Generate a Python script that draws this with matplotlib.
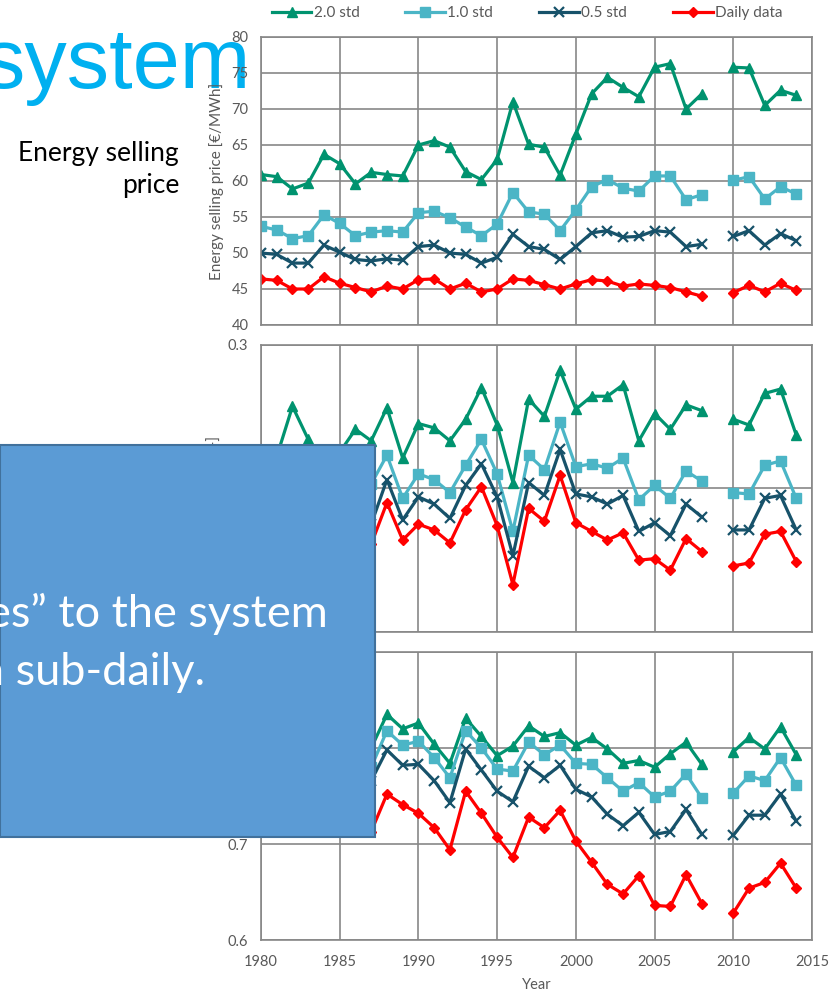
import numpy as np
import matplotlib
matplotlib.use("Agg")
import matplotlib.pyplot as plt
from matplotlib.patches import Rectangle
from matplotlib.ticker import FormatStrFormatter

nan = np.nan

# x axis: years 1980-2014, 2009 missing
years = np.arange(1980, 2015)
xticks = [1980, 1985, 1990, 1995, 2000, 2005, 2010, 2015]

series_labels = ["2.0 std", "1.0 std", "0.5 std", "Daily data"]

# top panel: energy selling price [EUR/MWh]
price_2std = [60.9, 60.6, 58.9, 59.7, 63.7, 62.4, 59.6, 61.2, 60.9, 60.7, 65.0, 65.6, 64.7, 61.3, 60.2, 63.0, 71.0,
              65.1, 64.7, 60.8, 66.5, 72.1, 74.4, 73.0, 71.7, 75.8, 76.3, 70.0, 72.1, nan, 75.8, 75.7, 70.5, 72.6, 71.9]
price_1std = [53.7, 53.2, 52.0, 52.4, 55.3, 54.1, 52.4, 52.9, 53.1, 52.9, 55.6, 55.8, 54.9, 53.6, 52.4, 54.0, 58.4,
              55.7, 55.4, 53.1, 56.0, 59.2, 60.2, 59.0, 58.6, 60.7, 60.7, 57.4, 58.1, nan, 60.1, 60.6, 57.5, 59.2, 58.2]
price_05std = [50.0, 49.8, 48.6, 48.6, 51.1, 50.1, 49.1, 48.9, 49.2, 49.0, 50.9, 51.1, 50.0, 49.8, 48.6, 49.4, 52.6,
               50.9, 50.5, 49.1, 50.9, 52.8, 53.1, 52.2, 52.3, 53.1, 52.9, 50.9, 51.2, nan, 52.3, 53.1, 51.1, 52.7, 51.7]
price_daily = [46.4, 46.2, 45.0, 45.0, 46.7, 45.8, 45.2, 44.6, 45.4, 45.0, 46.3, 46.4, 45.0, 45.8, 44.6, 45.0, 46.4,
               46.2, 45.6, 45.0, 45.7, 46.3, 46.1, 45.4, 45.7, 45.5, 45.2, 44.6, 44.0, nan, 44.5, 45.5, 44.6, 45.8, 44.8]

# middle panel
mid_2std = [0.215, 0.222, 0.257, 0.234, 0.212, 0.225, 0.241, 0.233, 0.256, 0.221, 0.245, 0.242, 0.233, 0.248, 0.270,
            0.244, 0.204, 0.262, 0.250, 0.282, 0.255, 0.264, 0.264, 0.272, 0.233, 0.252, 0.241, 0.258, 0.254, nan,
            0.248, 0.244, 0.266, 0.269, 0.237]
mid_1std = [0.190, 0.195, 0.222, 0.205, 0.185, 0.198, 0.210, 0.203, 0.223, 0.193, 0.210, 0.206, 0.197, 0.216, 0.234,
            0.210, 0.170, 0.223, 0.213, 0.246, 0.215, 0.217, 0.214, 0.221, 0.192, 0.202, 0.193, 0.212, 0.205, nan,
            0.197, 0.196, 0.216, 0.219, 0.193]
mid_05std = [0.175, 0.180, 0.205, 0.188, 0.170, 0.182, 0.192, 0.175, 0.206, 0.178, 0.194, 0.189, 0.179, 0.202, 0.217,
             0.194, 0.153, 0.204, 0.195, 0.227, 0.196, 0.194, 0.189, 0.195, 0.170, 0.176, 0.167, 0.189, 0.180, nan,
             0.171, 0.171, 0.193, 0.195, 0.171]
mid_daily = [0.160, 0.165, 0.185, 0.170, 0.155, 0.165, 0.172, 0.161, 0.190, 0.164, 0.175, 0.171, 0.162, 0.185, 0.201,
             0.174, 0.133, 0.186, 0.177, 0.209, 0.176, 0.170, 0.164, 0.169, 0.150, 0.151, 0.143, 0.165, 0.156, nan,
             0.146, 0.148, 0.168, 0.170, 0.149]

# bottom panel
bot_2std = [0.820, 0.810, 0.830, 0.800, 0.810, 0.820, 0.800, 0.800, 0.835, 0.820, 0.826, 0.804, 0.784, 0.831, 0.812,
            0.792, 0.802, 0.823, 0.812, 0.816, 0.803, 0.811, 0.799, 0.784, 0.787, 0.780, 0.794, 0.806, 0.783, nan,
            0.796, 0.811, 0.799, 0.822, 0.793]
bot_1std = [0.800, 0.790, 0.810, 0.780, 0.790, 0.800, 0.780, 0.780, 0.818, 0.803, 0.807, 0.790, 0.769, 0.818, 0.800,
            0.778, 0.776, 0.806, 0.793, 0.803, 0.784, 0.783, 0.769, 0.755, 0.764, 0.749, 0.755, 0.773, 0.748, nan,
            0.753, 0.771, 0.766, 0.790, 0.761]
bot_05std = [0.780, 0.770, 0.790, 0.760, 0.770, 0.780, 0.760, 0.766, 0.798, 0.782, 0.783, 0.766, 0.743, 0.799, 0.777,
             0.755, 0.744, 0.781, 0.769, 0.782, 0.757, 0.749, 0.731, 0.719, 0.733, 0.710, 0.713, 0.736, 0.710, nan,
             0.709, 0.730, 0.730, 0.752, 0.724]
bot_daily = [0.740, 0.730, 0.750, 0.720, 0.730, 0.740, 0.720, 0.713, 0.752, 0.741, 0.732, 0.717, 0.694, 0.755, 0.732,
             0.707, 0.686, 0.728, 0.717, 0.735, 0.703, 0.681, 0.658, 0.648, 0.667, 0.636, 0.635, 0.668, 0.638, nan,
             0.628, 0.654, 0.660, 0.680, 0.654]

W, H = 832, 990
GRID = "#878787"
TXT = "#595959"
styles = [
    dict(color="#00936F", marker="^", markersize=7.5),
    dict(color="#4BB5C6", marker="s", markersize=7),
    dict(color="#17526A", marker="x", markersize=7.5, markeredgewidth=1.6),
    dict(color="#FF0000", marker="D", markersize=5.5),
]


def px_axes(fig, x0, y0, x1, y1):
    # pixel box (top-left origin) -> figure axes
    return fig.add_axes([x0 / W, 1 - y1 / H, (x1 - x0) / W, (y1 - y0) / H])


def style_axes(ax, ylim, yticks, fmt, show_x):
    ax.set_xlim(1980, 2015)
    ax.set_ylim(*ylim)
    ax.set_xticks(xticks)
    ax.set_yticks(yticks)
    ax.yaxis.set_major_formatter(FormatStrFormatter(fmt))
    ax.grid(True, color=GRID, linewidth=1.2)
    ax.set_axisbelow(True)
    for s in ax.spines.values():
        s.set_color(GRID)
        s.set_linewidth(1.2)
    ax.tick_params(axis="y", length=0, pad=9, labelsize=10.5, labelcolor=TXT)
    ax.tick_params(axis="x", length=0, pad=11, labelsize=10.5, labelcolor=TXT, labelbottom=show_x)


plt.rcParams["font.family"] = ["Lato", "DejaVu Sans"]
fig = plt.figure(figsize=(W / 100, H / 100), dpi=100)

ax1 = px_axes(fig, 261, 37, 812, 325)
ax2 = px_axes(fig, 261, 344.5, 812, 632)
ax3 = px_axes(fig, 261, 652, 812, 940)

panels = [
    (ax1, [price_2std, price_1std, price_05std, price_daily]),
    (ax2, [mid_2std, mid_1std, mid_05std, mid_daily]),
    (ax3, [bot_2std, bot_1std, bot_05std, bot_daily]),
]
handles = []
for ax, data in panels:
    for vals, st, lab in zip(data, styles, series_labels):
        ln, = ax.plot(years, vals, linewidth=2.3, label=lab, **st)
        if ax is ax1:
            handles.append(ln)

style_axes(ax1, (40, 80), range(40, 81, 5), "%d", False)
style_axes(ax2, (0.1, 0.3), [0.1, 0.2, 0.3], "%.1f", False)
style_axes(ax3, (0.6, 0.9), [0.6, 0.7, 0.8, 0.9], "%.1f", True)

ax1.set_ylabel("Energy selling price [€/MWh]", fontsize=11, color=TXT, labelpad=5)
ax2.set_ylabel("Spillage ratio [-]", fontsize=11, color=TXT, labelpad=5)
ax3.set_ylabel("Reliability [-]", fontsize=11, color=TXT, labelpad=5)
ax3.set_xlabel("Year", fontsize=10.5, color=TXT, labelpad=6)

fig.legend(handles, series_labels, loc="center", bbox_to_anchor=(527 / W, 1 - 13 / H), ncol=4,
           frameon=False, fontsize=11, handlelength=2.6, columnspacing=3.0, handletextpad=0.15,
           labelcolor=TXT, numpoints=1)

# slide texts around the chart
fig.text(251 / W, 1 - 88 / H, "system", ha="right", va="baseline", fontsize=61,
         color="#00B0F0", family="Liberation Sans", zorder=-1)
fig.text(179 / W, 1 - 161 / H, "Energy selling", ha="right", va="baseline", fontsize=19, color="black")
fig.text(179 / W, 1 - 193 / H, "price", ha="right", va="baseline", fontsize=19, color="black")

# blue callout box covering part of the chart
box = Rectangle((0, 1 - 837 / H), 375 / W, (837 - 445) / H, transform=fig.transFigure,
                facecolor="#5B9BD5", edgecolor="#41719C", linewidth=1.5, zorder=10)
fig.add_artist(box)
fig.text(328 / W, 1 - 627 / H, "es\u201d to the system", ha="right", va="baseline", fontsize=32.5,
         color="white", zorder=11)
fig.text(205 / W, 1 - 685 / H, "n sub-daily.", ha="right", va="baseline", fontsize=32.5,
         color="white", zorder=11)

fig.savefig("out.png", dpi=100)
